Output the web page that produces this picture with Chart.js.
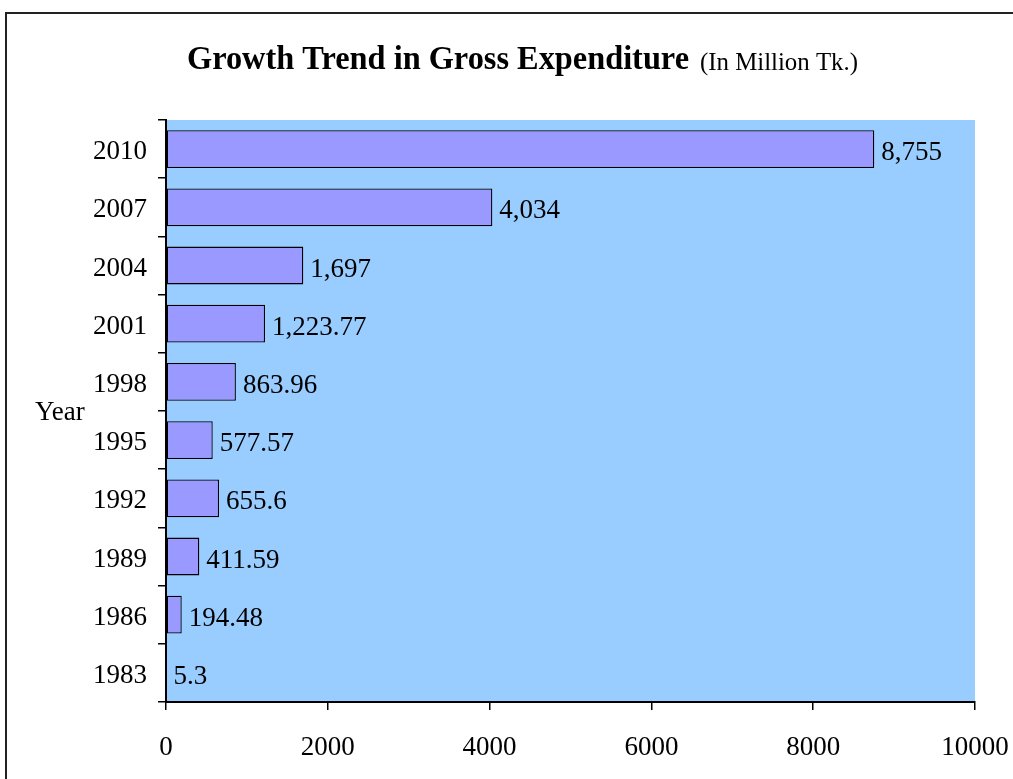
<!DOCTYPE html>
<html>
<head>
<meta charset="utf-8">
<script src="https://cdn.jsdelivr.net/npm/chart.js@4"></script>
<style>
  html, body { margin:0; padding:0; background:#fff; overflow:hidden; }
  #wrap { position:relative; width:1013px; height:779px; }
  #frame { position:absolute; left:5px; top:12px; width:1100px; height:900px; border:2px solid #222; box-sizing:border-box; }
  canvas { position:absolute; left:0; top:0; }
</style>
</head>
<body>
<div id="wrap">
  <div id="frame"></div>
  <canvas id="c" width="1013" height="779"></canvas>
</div>
<script>
const years = ["1983","1986","1989","1992","1995","1998","2001","2004","2007","2010"];
const expenditure = [5.3, 194.48, 411.59, 655.6, 577.57, 863.96, 1223.77, 1697, 4034, 8755];
const valueLabels = ["5.3","194.48","411.59","655.6","577.57","863.96","1,223.77","1,697","4,034","8,755"];
const titleMain = "Growth Trend in Gross Expenditure";
const titleSub = "(In Million Tk.)";
const yAxisTitle = "Year";

const FONT = "'Liberation Serif', 'Times New Roman', serif";

const plotBg = {
  id: 'plotBg',
  beforeDraw(chart) {
    const {ctx, chartArea:a} = chart;
    ctx.save();
    ctx.fillStyle = '#99CCFF';
    ctx.fillRect(a.left, a.top, a.right - a.left, a.bottom - a.top);
    ctx.restore();
  }
};

const extras = {
  id: 'extras',
  afterDraw(chart) {
    const {ctx, chartArea:a} = chart;
    ctx.save();
    ctx.fillStyle = '#000';
    ctx.textBaseline = 'alphabetic';
    ctx.textAlign = 'left';
    ctx.font = 'bold 33px ' + FONT;
    ctx.fillText(titleMain, 187, 69, 502);
    ctx.font = '25px ' + FONT;
    ctx.fillText(titleSub, 700, 70, 158);
    ctx.font = '27px ' + FONT;
    ctx.textBaseline = 'middle';
    ctx.fillText(yAxisTitle, 35, (a.top + a.bottom) / 2 + 2);
    const meta = chart.getDatasetMeta(0);
    meta.data.forEach((bar, i) => {
      ctx.fillText(valueLabels[i], bar.x + 7, bar.y + 4);
    });
    ctx.restore();
  }
};

new Chart(document.getElementById('c'), {
  type: 'bar',
  data: {
    labels: years,
    datasets: [{
      data: expenditure,
      backgroundColor: '#9999FF',
      borderColor: '#000',
      borderWidth: 1.3,
      borderSkipped: false,
      barPercentage: 0.65,
      categoryPercentage: 1
    }]
  },
  options: {
    indexAxis: 'y',
    responsive: false,
    animation: false,
    devicePixelRatio: 1,
    layout: { padding: { left: 0, top: 120, right: 38, bottom: 0 } },
    plugins: { legend: { display: false }, title: { display: false }, tooltip: { enabled: false } },
    scales: {
      x: {
        min: 0, max: 10000,
        ticks: { stepSize: 2000, color: '#000', font: { family: FONT, size: 27 }, padding: 22, maxRotation: 0,
                 callback: (v) => String(v) },
        grid: { drawOnChartArea: false, drawTicks: true, tickLength: 8, color: '#000', lineWidth: 1.5 },
        border: { color: '#000', width: 2 },
        afterFit(s) { s.height = 77; s.paddingLeft = 0; s.paddingRight = 0; }
      },
      y: {
        reverse: true,
        ticks: { color: '#000', font: { family: FONT, size: 27 }, padding: 11, labelOffset: 3 },
        grid: { drawOnChartArea: false, drawTicks: true, tickLength: 8, color: '#000', lineWidth: 1.5, offset: true },
        border: { color: '#000', width: 2 },
        afterFit(s) { s.width = 166; s.paddingTop = 0; s.paddingBottom = 0; }
      }
    }
  },
  plugins: [plotBg, extras]
});
</script>
</body>
</html>
